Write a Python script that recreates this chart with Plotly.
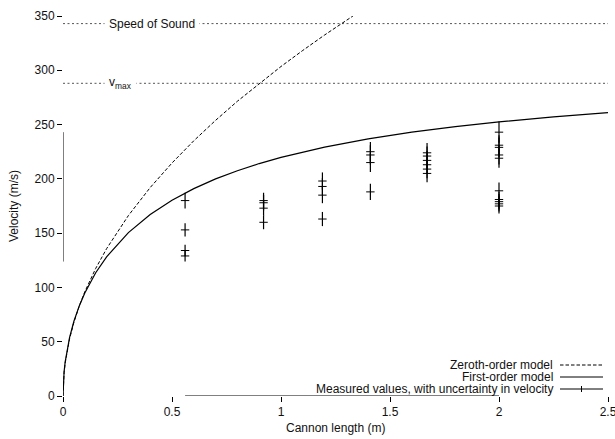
import plotly.graph_objects as go

# ---------------- data ----------------
# measured cannon lengths (m) and muzzle velocities (m/s), paired
cannon_length = [0.56, 0.56, 0.56, 0.56,
                 0.92, 0.92, 0.92, 0.92,
                 1.19, 1.19, 1.19, 1.19,
                 1.41, 1.41, 1.41, 1.41,
                 1.67, 1.67, 1.67, 1.67, 1.67, 1.67,
                 2.00, 2.00, 2.00, 2.00, 2.00, 2.00, 2.00, 2.00, 2.00, 2.00]
velocity = [180, 153, 134, 129,
            180, 178, 173, 160,
            198, 193, 185, 163,
            225, 222, 215, 188,
            224, 221, 217, 213, 209, 205,
            243, 231, 229, 222, 219, 189, 181, 179, 177, 175]
uncertainty_pct = 4  # velocity uncertainty, percent

# zeroth-order model curve
zeroth_L = [0, 0.001, 0.005, 0.01, 0.02, 0.03, 0.05, 0.075, 0.1, 0.15, 0.2, 0.3, 0.4,
            0.5, 0.6, 0.7, 0.8, 0.9, 1.0, 1.1, 1.2, 1.33]
zeroth_v = [0, 9.6, 21.5, 30.4, 42.9, 52.6, 67.9, 83.1, 96.0, 117.5, 135.7, 166.2, 192.0,
            214.6, 235.1, 253.9, 271.5, 287.9, 303.5, 318.3, 332.5, 350.0]

# first-order model curve
first_L = [0, 0.001, 0.005, 0.01, 0.02, 0.03, 0.05, 0.075, 0.1, 0.15, 0.2, 0.3, 0.4,
           0.5, 0.6, 0.7, 0.8, 0.9, 1.0, 1.2, 1.4, 1.6, 1.8, 2.0, 2.25, 2.5]
first_v = [0, 10.0, 22.3, 31.4, 44.2, 53.8, 68.8, 83.2, 94.9, 113.5, 128.2, 150.5, 167.2,
           180.3, 191.0, 200.0, 207.5, 214.1, 219.8, 229.2, 236.8, 243.0, 248.1, 252.5, 257.1, 261.0]

speed_of_sound = 343
v_max = 288

x_ticks = [0, 0.5, 1, 1.5, 2, 2.5]
y_ticks = [0, 50, 100, 150, 200, 250, 300, 350]

FONT = "Liberation Sans, Arial, Helvetica, sans-serif"
TXT = "#111111"

fig = go.Figure()

fig.add_trace(go.Scatter(x=zeroth_L, y=zeroth_v, mode="lines",
                         line=dict(color="black", width=1, dash="3.5px,2px"),
                         showlegend=False, hoverinfo="skip"))
fig.add_trace(go.Scatter(x=first_L, y=first_v, mode="lines",
                         line=dict(color="black", width=1.2),
                         showlegend=False, hoverinfo="skip"))
fig.add_trace(go.Scatter(x=cannon_length, y=velocity, mode="markers",
                         marker=dict(symbol="line-ew", size=6,
                                     line=dict(color="black", width=1)),
                         error_y=dict(type="percent", value=uncertainty_pct,
                                      color="black", thickness=1.2, width=0),
                         showlegend=False))

# reference horizontal lines (dotted)
for val in (speed_of_sound, v_max):
    fig.add_shape(type="line", xref="x", yref="y", x0=0, x1=2.5, y0=val, y1=val,
                  line=dict(color="#555555", width=1, dash="2px,2.5px"), layer="below")

fig.add_annotation(x=0.19, y=speed_of_sound, xref="x", yref="y", text="Speed of Sound",
                   showarrow=False, xanchor="left", yanchor="middle", bgcolor="white", borderpad=4,
                   font=dict(size=12, color=TXT, family=FONT))
fig.add_annotation(x=0.19, y=v_max, xref="x", yref="y", text="v<sub>max</sub>",
                   showarrow=False, xanchor="left", yanchor="middle", bgcolor="white", borderpad=4,
                   font=dict(size=12, color=TXT, family=FONT))

# range-frame axis lines
y_lo = min(velocity) * (1 - uncertainty_pct / 100)
y_hi = max(velocity)
fig.add_shape(type="line", xref="x", yref="y", x0=0, x1=0, y0=y_lo, y1=y_hi,
              line=dict(color="black", width=1))
fig.add_shape(type="line", xref="x", yref="y", x0=min(cannon_length), x1=max(cannon_length),
              y0=0, y1=0, line=dict(color="black", width=1))

# custom legend (text left, sample right)
PW, PH, L0, T0 = 545, 380, 63, 16
def px(xp):
    return (xp - L0) / PW
def py(yp):
    return (T0 + PH - yp) / PH

legend_rows = [("Zeroth-order model", 365), ("First-order model", 377),
               ("Measured values, with uncertainty in velocity", 389)]
for i, (txt, yy) in enumerate(legend_rows):
    fig.add_annotation(x=px(554), y=py(yy), xref="paper", yref="paper", text=txt,
                       showarrow=False, xanchor="right", yanchor="middle", borderpad=0,
                       font=dict(size=12, color=TXT, family=FONT))
    dash = "3.5px,2px" if i == 0 else "solid"
    fig.add_shape(type="line", xref="paper", yref="paper", x0=px(560), x1=px(603),
                  y0=py(yy), y1=py(yy), line=dict(color="black", width=1, dash=dash))
fig.add_shape(type="line", xref="paper", yref="paper", x0=px(581.5), x1=px(581.5),
              y0=py(389 - 3), y1=py(389 + 3), line=dict(color="black", width=1))

# axis titles
fig.add_annotation(x=px(335), y=py(428), xref="paper", yref="paper", text="Cannon length (m)",
                   showarrow=False, xanchor="center", yanchor="middle",
                   font=dict(size=12, color=TXT, family=FONT))
fig.add_annotation(x=px(14), y=py(206), xref="paper", yref="paper", text="Velocity (m/s)",
                   showarrow=False, textangle=-90, xanchor="center", yanchor="middle",
                   font=dict(size=12, color=TXT, family=FONT))

fig.update_xaxes(range=[0, 2.5], tickvals=x_ticks, ticktext=[f"{t:g}" for t in x_ticks],
                 showgrid=False, zeroline=False, showline=False, automargin=False,
                 ticklabeloverflow="allow",
                 ticks="outside", ticklen=5, tickcolor="black", tickwidth=1,
                 tickfont=dict(size=12, color=TXT, family=FONT))
fig.update_yaxes(range=[0, 350], tickvals=y_ticks, ticktext=[str(t) for t in y_ticks],
                 showgrid=False, zeroline=False, showline=False, automargin=False,
                 ticklabeloverflow="allow",
                 ticks="outside", ticklen=5, tickcolor="black", tickwidth=1,
                 tickfont=dict(size=12, color=TXT, family=FONT))

fig.update_layout(width=615, height=439, margin=dict(l=L0, r=615 - L0 - PW, t=T0, b=439 - T0 - PH),
                  plot_bgcolor="white", paper_bgcolor="white", showlegend=False,
                  font=dict(family=FONT, size=12, color=TXT))

fig.write_html("out.html", config={"displayModeBar": False},
               post_script="document.body.style.margin='0';document.body.style.overflow='hidden';")
